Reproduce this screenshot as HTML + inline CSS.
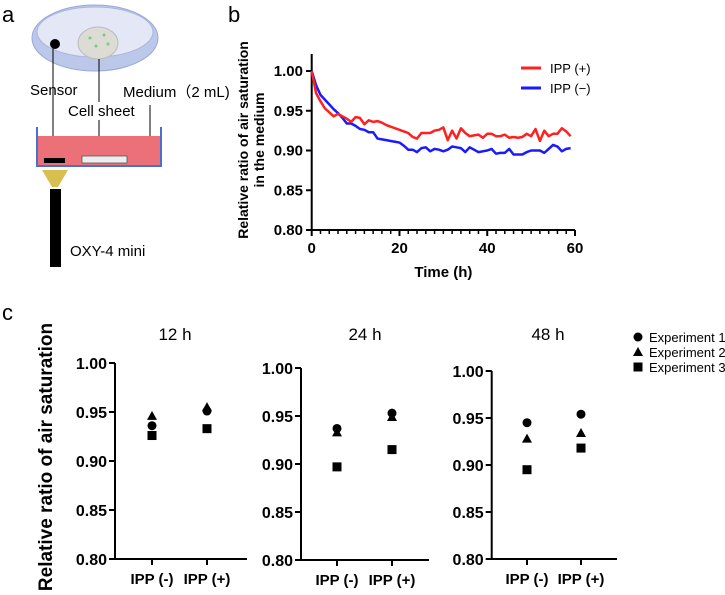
<!DOCTYPE html>
<html><head><meta charset="utf-8"><style>
body{margin:0;background:#fff}
svg{display:block;font-family:"Liberation Sans",Arial,sans-serif}
</style></head><body>
<svg id="fig" width="725" height="595" viewBox="0 0 725 595">
<g>
<text x="2" y="22" font-size="22">a</text>
<ellipse cx="95" cy="38" rx="63" ry="33" fill="#bcc8ea" stroke="#9aa8d8"/>
<ellipse cx="95" cy="32" rx="58" ry="25" fill="#e4e8f6" stroke="#aab4dc"/>
<circle cx="55" cy="44" r="5" fill="#000"/>
<ellipse cx="98" cy="43" rx="20" ry="16" fill="#dcdcd4" stroke="#bbb"/>
<circle cx="90" cy="38" r="1.5" fill="#7c7"/><circle cx="104" cy="35" r="1.5" fill="#7c7"/><circle cx="108" cy="44" r="1.5" fill="#7c7"/><circle cx="96" cy="46" r="1.5" fill="#7c7"/>
<line x1="53" y1="44" x2="53" y2="155" stroke="#000" stroke-width="1"/>
<line x1="99" y1="59" x2="99" y2="102" stroke="#000" stroke-width="1"/>
<line x1="99" y1="120" x2="99" y2="156" stroke="#000" stroke-width="1"/>
<line x1="150" y1="105" x2="150" y2="146" stroke="#000" stroke-width="1"/>
<text x="30" y="95" font-size="15">Sensor</text>
<text x="68" y="116" font-size="15">Cell sheet</text>
<text x="123" y="97" font-size="15">Medium（2 mL)</text>
<rect x="37" y="136" width="124" height="29" fill="#ec7077"/>
<path d="M37 127 V166 H161 V127" fill="none" stroke="#4b6fd0" stroke-width="2"/>
<rect x="44" y="158" width="21" height="5" fill="#000"/>
<rect x="82" y="156" width="45" height="7" fill="#eee" stroke="#555" stroke-width="0.8"/>
<path d="M42 170 H68 L58 187 H52 Z" fill="#d8c050"/>
<rect x="50" y="189" width="11" height="78" fill="#000"/>
<text x="70" y="256" font-size="15">OXY-4 mini</text>
</g>
<text x="228" y="22" font-size="22">b</text>
<text x="2" y="320" font-size="22">c</text>
<g id="pb"></g>
<g id="pc"></g>
</svg>
<script>
const hours=[0,1,2,3,4,5,6,7,8,9,10,11,12,13,14,15,16,17,18,19,20,21,22,23,24,25,26,27,28,29,30,31,32,33,34,35,36,37,38,39,40,41,42,43,44,45,46,47,48,49,50,51,52,53,54,55,56,57,58,59];
const ippPlus=[1.00,.972,.962,.953,.948,.943,.946,.943,.940,.936,.942,.941,.933,.938,.936,.937,.935,.932,.930,.928,.926,.924,.922,.917,.915,.922,.922,.922,.925,.926,.929,.913,.925,.915,.928,.922,.918,.919,.920,.916,.921,.921,.918,.918,.920,.916,.917,.916,.917,.921,.918,.927,.912,.925,.918,.921,.921,.928,.924,.918];
const ippMinus=[1.00,.982,.970,.964,.958,.952,.947,.941,.934,.934,.931,.927,.926,.923,.923,.915,.914,.913,.912,.911,.910,.906,.901,.901,.898,.903,.904,.899,.902,.901,.899,.901,.905,.904,.903,.898,.904,.901,.898,.899,.900,.902,.896,.897,.897,.902,.895,.895,.895,.898,.900,.900,.900,.897,.902,.907,.905,.899,.902,.903];
const bXTicks=[0,20,40,60];
const yTicks=[0.80,0.85,0.90,0.95,1.00];
const panelTitles=["12 h","24 h","48 h"];
const groups=["IPP (-)","IPP (+)"];
const exp1=[[0.936,0.951],[0.937,0.953],[0.945,0.954]];
const exp2=[[0.946,0.955],[0.933,0.949],[0.928,0.934]];
const exp3=[[0.926,0.933],[0.897,0.915],[0.895,0.918]];
const expNames=["Experiment 1","Experiment 2","Experiment 3"];

const NS="http://www.w3.org/2000/svg";
function mk(p,t,a){const e=document.createElementNS(NS,t);for(const k in a)e.setAttribute(k,a[k]);p.appendChild(e);return e;}

const pb=document.getElementById('pb');
const bx=v=>311.7+(v/60)*263.3, by=v=>71+(1-v)/0.2*159;
let ax=mk(pb,'path',{d:`M311.7 54 V230 H575`,fill:'none',stroke:'#000','stroke-width':2});

for(let h=2;h<60;h+=2){let t=mk(pb,'line',{x1:bx(h),x2:bx(h),y1:230,y2:234,stroke:'#000','stroke-width':1.5});}
bXTicks.forEach(v=>{let t=mk(pb,'line',{x1:bx(v),x2:bx(v),y1:230,y2:236,stroke:'#000','stroke-width':2});
 let l=mk(pb,'text',{x:bx(v),y:253,'font-size':15,'font-weight':'bold','text-anchor':'middle'});l.textContent=v;});
yTicks.forEach(v=>{let t=mk(pb,'line',{x1:306,x2:311.7,y1:by(v),y2:by(v),stroke:'#000','stroke-width':2});
 let l=mk(pb,'text',{x:303,y:by(v)+5,'font-size':15,'font-weight':'bold','text-anchor':'end'});l.textContent=v.toFixed(2);});
let xt=mk(pb,'text',{x:bx(30),y:277,'font-size':15,'font-weight':'bold','text-anchor':'middle'});xt.textContent='Time (h)';

let yt=mk(pb,'text',{transform:'translate(248,140) rotate(-90)','font-size':14,'font-weight':'bold','text-anchor':'middle'});

mk(yt,'tspan',{x:0,dy:0}).textContent='Relative ratio of air saturation';mk(yt,'tspan',{x:0,dy:16}).textContent='in the medium';
[[ippMinus,'#1a1aff','ipp-minus-line'],[ippPlus,'#ff2020','ipp-plus-line']].forEach(([d,c,n])=>{
 let p=mk(pb,'polyline',{points:hours.map((h,i)=>bx(h)+','+by(d[i])).join(' '),fill:'none',stroke:c,'stroke-width':2.5,'stroke-linejoin':'round'});
 });
[['IPP (+)','#ff2020',68],['IPP (−)','#1a1aff',88]].forEach(([t,c,y])=>{
 let g=mk(pb,'g',{});
 mk(g,'line',{x1:521,x2:541,y1:y,y2:y,stroke:c,'stroke-width':3});
 mk(g,'text',{x:550,y:y+5,'font-size':13}).textContent=t;});

const pc=document.getElementById('pc');
const panels=[{ax:115,top:363,bot:559,cats:[152,207],end:247,tx:175},{ax:301,top:368,bot:560,cats:[337,392],end:429,tx:365},{ax:491.7,top:371,bot:559,cats:[527,581],end:617,tx:548}];
function marker(g,kind,x,y){let e;
 if(kind===0)e=mk(g,'circle',{cx:x,cy:y,r:4.5});
 else if(kind===1)e=mk(g,'path',{d:`M${x} ${y-5} L${x+5} ${y+4} L${x-5} ${y+4} Z`});
 else e=mk(g,'rect',{x:x-4.5,y:y-4.5,width:9,height:9});
 return e;}
panels.forEach((P,pi)=>{
 const sy=v=>P.top+(1-v)/0.2*(P.bot-P.top);
 let g=mk(pc,'g',{});
 let tt=mk(g,'text',{x:P.tx,y:340,'font-size':17,'text-anchor':'middle'});tt.textContent=panelTitles[pi];
 
 let a=mk(g,'path',{d:`M${P.ax} ${P.top} V${P.bot} H${P.end}`,fill:'none',stroke:'#000','stroke-width':2});
 
 yTicks.forEach(v=>{mk(g,'line',{x1:P.ax-6,x2:P.ax,y1:sy(v),y2:sy(v),stroke:'#000','stroke-width':2});
  let l=mk(g,'text',{x:P.ax-8,y:sy(v)+6,'font-size':16,'font-weight':'bold','text-anchor':'end'});l.textContent=v.toFixed(2);
  });
 groups.forEach((gn,ci)=>{const x=P.cats[ci];
  mk(g,'line',{x1:x,x2:x,y1:P.bot,y2:P.bot+6,stroke:'#000','stroke-width':2});
  let l=mk(g,'text',{x:x,y:P.bot+25,'font-size':15,'font-weight':'bold','text-anchor':'middle'});l.textContent=gn;
  
  [exp1,exp2,exp3].forEach((arr,k)=>{let m=marker(g,k,x,sy(arr[pi][ci]));
   });});
});
let cyt=mk(pc,'text',{transform:'translate(52,457) rotate(-90)','font-size':19,'font-weight':'bold','text-anchor':'middle'});
cyt.textContent='Relative ratio of air saturation';

expNames.forEach((n,k)=>{let g=mk(pc,'g',{});
 const y=337+k*15;marker(g,k,638,y);
 mk(g,'text',{x:649,y:y+5,'font-size':13}).textContent=n;});
</script>
</body></html>
